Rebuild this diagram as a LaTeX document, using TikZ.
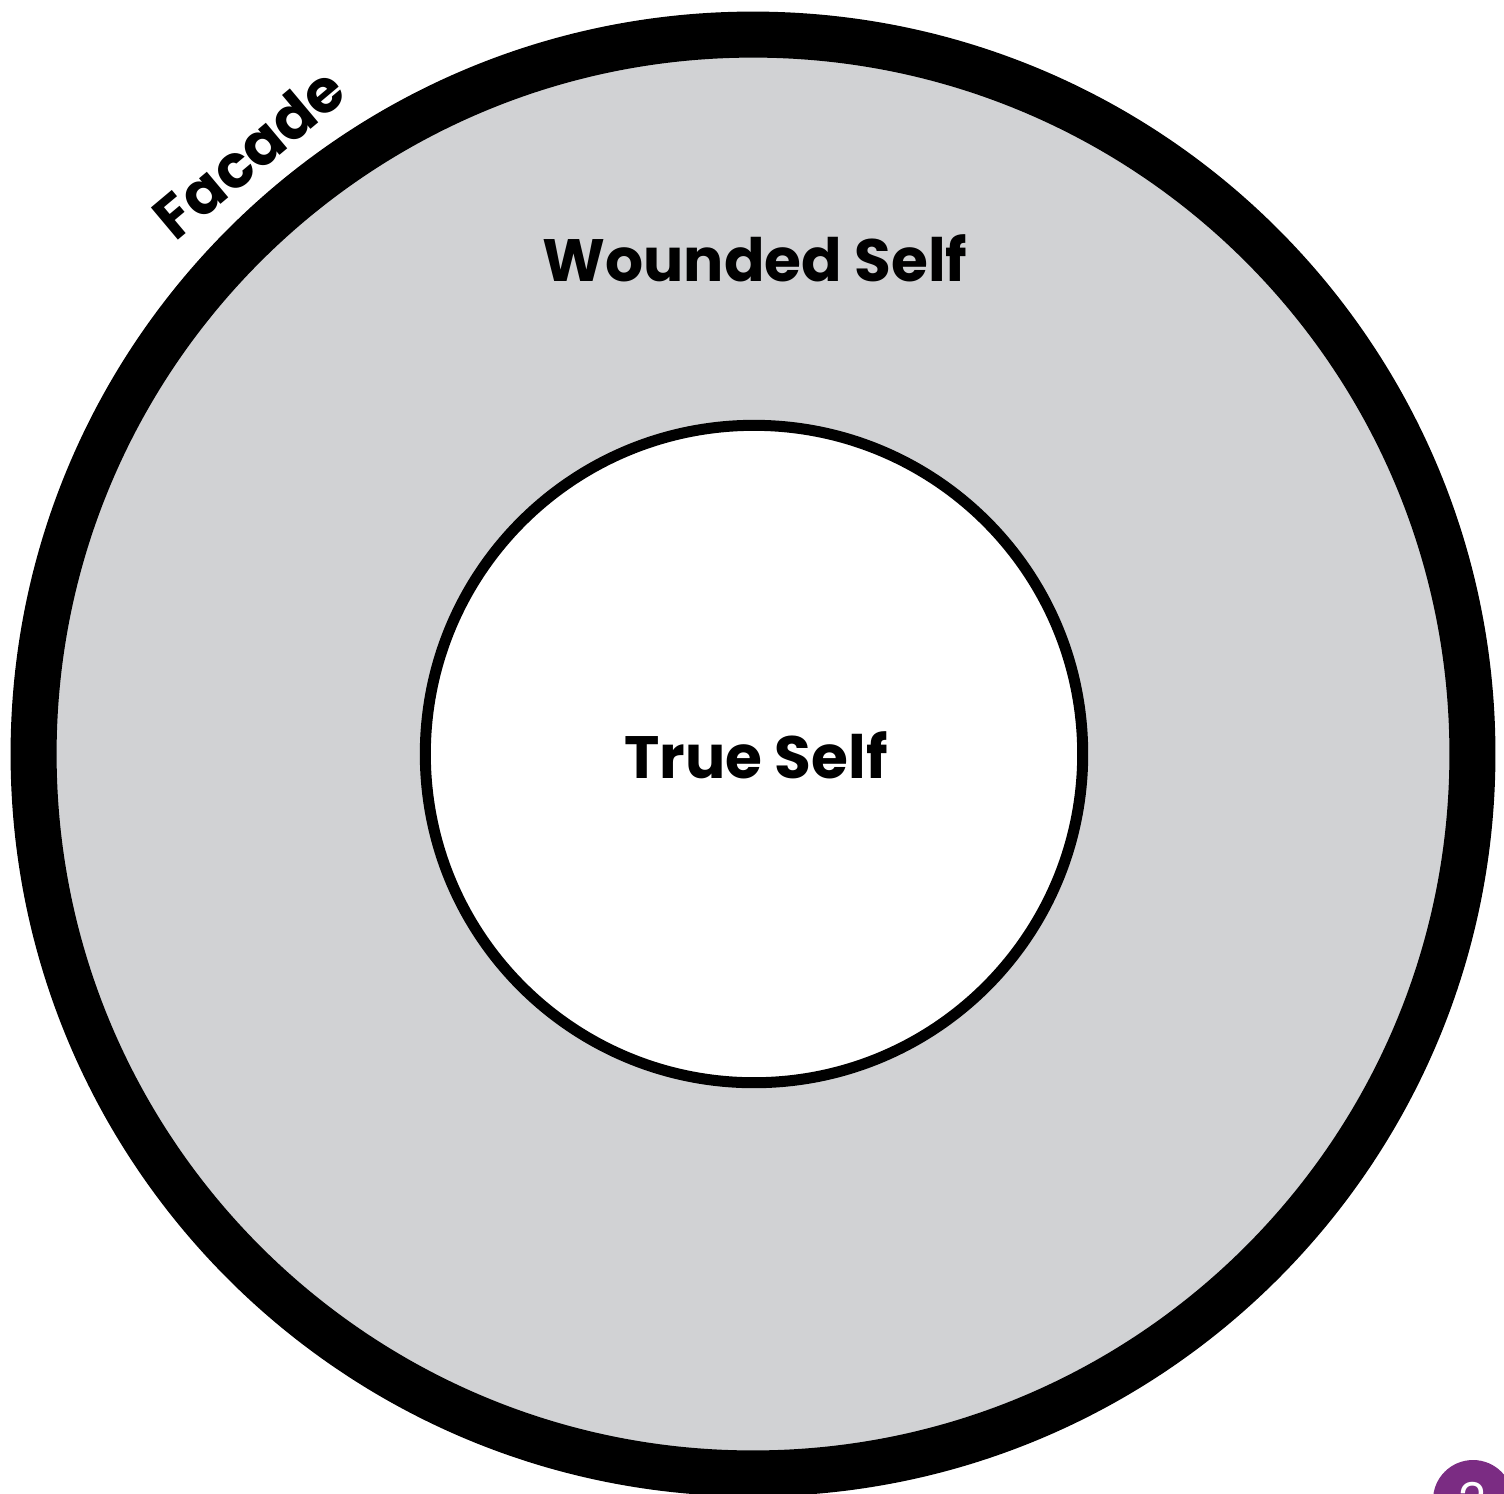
\documentclass[tikz,border=0pt]{standalone}
\usepackage{fontspec}
\setmainfont{Poppins}
\usepackage{tikz}
\definecolor{wound}{HTML}{D1D2D4}
\definecolor{badge}{HTML}{7B2C83}
\usetikzlibrary{positioning, calc}

\begin{document}
\begin{tikzpicture}[
    x=0.01cm, y=-0.01cm,
    % Node styles
    facade ring/.style={
        circle,
        draw=black,
        fill=wound,
        line width=0.46cm,
        minimum size=14.38cm,
        inner sep=0pt
    },
    true core/.style={
        circle,
        draw=black,
        fill=white,
        line width=0.11cm,
        minimum size=6.57cm,
        inner sep=0pt
    },
    self label/.style={
        font=\fontsize{17}{20}\selectfont\bfseries,
        text=black
    },
    page badge/.style={
        circle,
        fill=badge,
        minimum size=0.8cm,
        inner sep=0pt,
        text=white,
        font=\fontsize{14}{16}\selectfont
    }
]

% Page frame
\useasboundingbox (0,0) rectangle (1504,1493);

% Rings
\node[facade ring] (facade) at (753,754) {};
\node[true core] (core) at (754,754) {};

% Labels
\node[self label] (wounded) at (755,258) {Wounded Self};
\node[self label] (true) at (756,755) {True Self};
\node[self label, rotate=40] (facade label) at (249,153) {Facade};

% Page number
\node[page badge] (page) at (1473,1500) {2};

\end{tikzpicture}
\end{document}
